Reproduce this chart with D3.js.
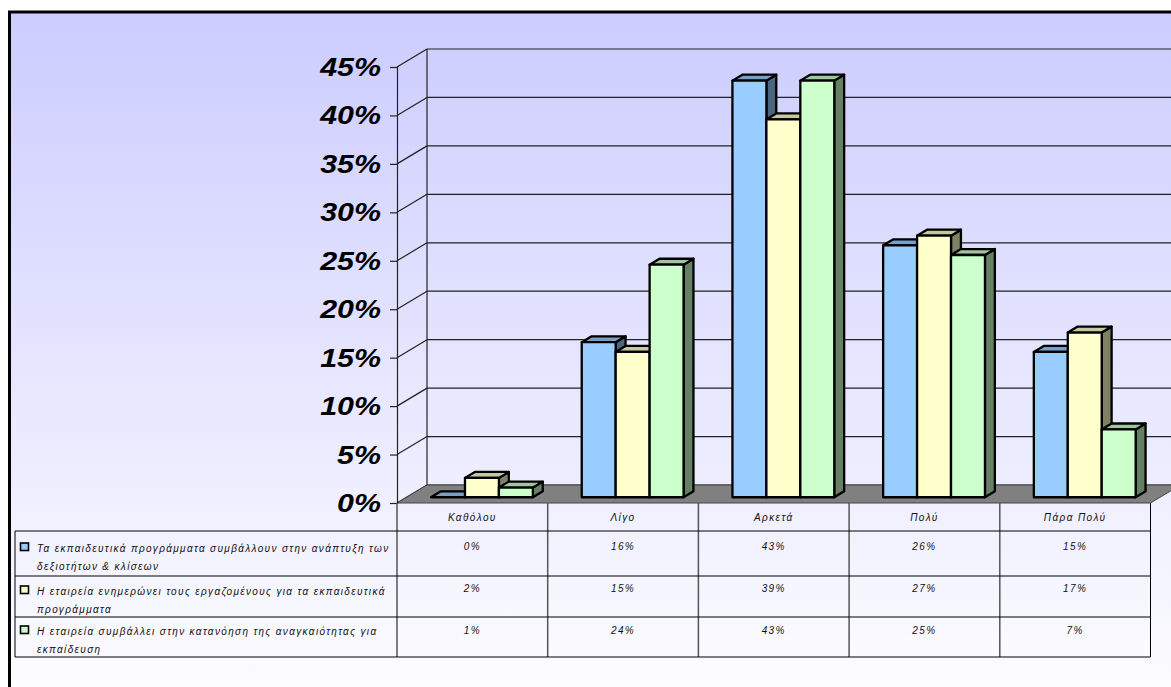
<!DOCTYPE html>
<html><head><meta charset="utf-8">
<script src="https://cdn.jsdelivr.net/npm/d3@7"></script>
<style>body{margin:0;background:#fff} svg{display:block}</style>
</head><body><svg id="c" width="1171" height="687"></svg>
<script>
const categories = ["Καθόλου", "Λίγο", "Αρκετά", "Πολύ", "Πάρα Πολύ"];
const seriesNames = [
  "Τα εκπαιδευτικά προγράμματα συμβάλλουν στην ανάπτυξη των δεξιοτήτων & κλίσεων",
  "Η εταιρεία ενημερώνει τους εργαζομένους για τα εκπαιδευτικά προγράμματα",
  "Η εταιρεία συμβάλλει στην κατανόηση της αναγκαιότητας για εκπαίδευση"
];
const seriesLines = [
  ["Τα εκπαιδευτικά προγράμματα συμβάλλουν στην ανάπτυξη των", "δεξιοτήτων & κλίσεων"],
  ["Η εταιρεία ενημερώνει τους εργαζομένους για τα εκπαιδευτικά", "προγράμματα"],
  ["Η εταιρεία συμβάλλει στην κατανόηση της αναγκαιότητας για", "εκπαίδευση"]
];
const seriesA = [0.00, 0.16, 0.43, 0.26, 0.15];
const seriesB = [0.02, 0.15, 0.39, 0.27, 0.17];
const seriesC = [0.01, 0.24, 0.43, 0.25, 0.07];
const yTicks = [0, 0.05, 0.10, 0.15, 0.20, 0.25, 0.30, 0.35, 0.40, 0.45];
const frontColors = ["#99ccff", "#ffffcc", "#ccffcc"];

const series = [seriesA, seriesB, seriesC];
const svg = d3.select("#c");
const W = 1171, H = 687;

// background
const defs = svg.append("defs");
const g = defs.append("linearGradient").attr("id", "bg").attr("x1", 0).attr("y1", 0).attr("x2", 0).attr("y2", 1);
g.append("stop").attr("offset", "0%").attr("stop-color", "#ccccff");
g.append("stop").attr("offset", "100%").attr("stop-color", "#ffffff");
svg.append("rect").attr("x", 9.5).attr("y", 12).attr("width", W).attr("height", H + 20)
  .attr("fill", "url(#bg)").attr("stroke", "#000").attr("stroke-width", 3);

// scales
const y = d3.scaleLinear().domain([0, 0.45]).range([503, 67]);
const x = d3.scaleBand().domain(categories).range([397, 1150.5]);
const xs = d3.scaleBand().domain(d3.range(series.length)).range([0, x.bandwidth()]).paddingOuter(0.72).paddingInner(0);
const DX = 30, DY = 18;           // full depth of the box
const z0 = 0.32, z1 = 0.65;       // depth of bars

const floorRight = 1150.5;

// back wall gridlines
svg.append("g").selectAll("line").data(yTicks).join("line")
  .attr("x1", 397 + DX).attr("x2", floorRight + DX + 5)
  .attr("y1", d => y(d) - DY).attr("y2", d => y(d) - DY)
  .attr("stroke", "#222").attr("stroke-width", 1.2);
// side wall lines
svg.append("g").selectAll("line").data(yTicks).join("line")
  .attr("x1", 397).attr("x2", 397 + DX)
  .attr("y1", d => y(d)).attr("y2", d => y(d) - DY)
  .attr("stroke", "#222").attr("stroke-width", 1.2);
svg.append("line").attr("x1", 397 + DX).attr("x2", 397 + DX)
  .attr("y1", y(0) - DY).attr("y2", y(0.45) - DY).attr("stroke", "#222").attr("stroke-width", 1.2);

// floor
svg.append("path")
  .attr("d", `M397,${y(0)}L${397 + DX},${y(0) - DY}L${floorRight + DX},${y(0) - DY}L${floorRight},${y(0)}Z`)
  .attr("fill", "#808080").attr("stroke", "#444").attr("stroke-width", 1);

// axis
const axis = d3.axisLeft(y).tickValues(yTicks).tickSize(7).tickFormat(() => "");
const ag = svg.append("g").attr("transform", "translate(397,0)").call(axis);
ag.selectAll("path,line").attr("stroke", "#222").attr("stroke-width", 1.2);
svg.append("g").selectAll("text").data(yTicks).join("text")
  .attr("transform", d => `translate(381,${y(d) + 9}) scale(1.17,1)`)
  .attr("text-anchor", "end")
  .attr("font-family", "Liberation Sans, Arial, sans-serif")
  .attr("font-size", 26).attr("font-weight", "bold").attr("font-style", "italic")
  .attr("fill", "#000")
  .text(d3.format(".0%"));

// bars
const shade = (c, k) => { const r = d3.rgb(c); return d3.rgb(r.r * k, r.g * k, r.b * k).toString(); };
const bars = [];
categories.forEach((c, ci) => series.forEach((s, si) => bars.push({c, si, v: s[ci]})));
const bg = svg.append("g");
bars.forEach(b => {
  const ddx = (z1 - z0) * DX, ddy = (z1 - z0) * DY;
  const x0 = x(b.c) + xs(b.si) + z0 * DX, x1 = x0 + xs.bandwidth();
  const yt = y(b.v) - z0 * DY, yb = y(0) - z0 * DY;
  const gg = bg.append("g").attr("stroke", "#000").attr("stroke-width", 2.3).attr("stroke-linejoin", "round");
  gg.append("path").attr("d", `M${x1},${yt}L${x1 + ddx},${yt - ddy}L${x1 + ddx},${yb - ddy}L${x1},${yb}Z`)
    .attr("fill", shade(frontColors[b.si], 0.5));
  gg.append("path").attr("d", `M${x0},${yt}L${x0 + ddx},${yt - ddy}L${x1 + ddx},${yt - ddy}L${x1},${yt}Z`)
    .attr("fill", shade(frontColors[b.si], 0.78));
  if (b.v > 0) gg.append("rect").attr("x", x0).attr("y", yt).attr("width", x1 - x0).attr("height", yb - yt)
    .attr("fill", frontColors[b.si]);
});

// data table
const tTop = 503, rowTops = [531, 576, 617], tBot = 657;
const tg = svg.append("g");
const font = "Liberation Sans, Arial, sans-serif";
// column lines
tg.selectAll("line.col").data(categories.slice(1)).join("line")
  .attr("x1", d => x(d)).attr("x2", d => x(d)).attr("y1", tTop).attr("y2", tBot)
  .attr("stroke", "#555").attr("stroke-width", 1.5);
tg.append("line").attr("x1", 397).attr("x2", 397).attr("y1", tTop).attr("y2", tBot).attr("stroke", "#555").attr("stroke-width", 1.5);
tg.append("line").attr("x1", floorRight).attr("x2", floorRight).attr("y1", tTop).attr("y2", tBot).attr("stroke", "#000").attr("stroke-width", 1);
tg.append("line").attr("x1", 15).attr("x2", 15).attr("y1", rowTops[0]).attr("y2", tBot).attr("stroke", "#000").attr("stroke-width", 1);
tg.selectAll("line.row").data(rowTops.concat([tBot])).join("line")
  .attr("x1", 15).attr("x2", floorRight).attr("y1", d => d).attr("y2", d => d)
  .attr("stroke", "#000").attr("stroke-width", 1.2);
// headers
tg.selectAll("text.cat").data(categories).join("text")
  .attr("x", d => x(d) + x.bandwidth() / 2).attr("y", 521)
  .attr("text-anchor", "middle").attr("font-family", font).attr("font-size", 10)
  .attr("font-style", "italic").attr("letter-spacing", 1.4).attr("fill", "#111")
  .text(d => d);
// legend rows
const lineBase = [[552, 570], [595, 613], [635, 653]];
const valBase = [550, 592, 634];
series.forEach((s, si) => {
  tg.append("rect").attr("x", 20.5).attr("y", lineBase[si][0] - 9).attr("width", 8).attr("height", 7.5)
    .attr("fill", frontColors[si]).attr("stroke", "#000").attr("stroke-width", 1.6);
  seriesLines[si].forEach((ln, li) => {
    tg.append("text").attr("x", 37).attr("y", lineBase[si][li])
      .attr("font-family", font).attr("font-size", 10).attr("font-style", "italic")
      .attr("letter-spacing", 1.35).attr("fill", "#111").text(ln);
  });
  tg.selectAll(null).data(s).join("text")
    .attr("x", (d, i) => x(categories[i]) + x.bandwidth() / 2).attr("y", valBase[si])
    .attr("text-anchor", "middle").attr("font-family", font).attr("font-size", 10)
    .attr("font-style", "italic").attr("letter-spacing", 1.4).attr("fill", "#111")
    .text(d => d3.format(".0%")(d));
});
</script></body></html>
